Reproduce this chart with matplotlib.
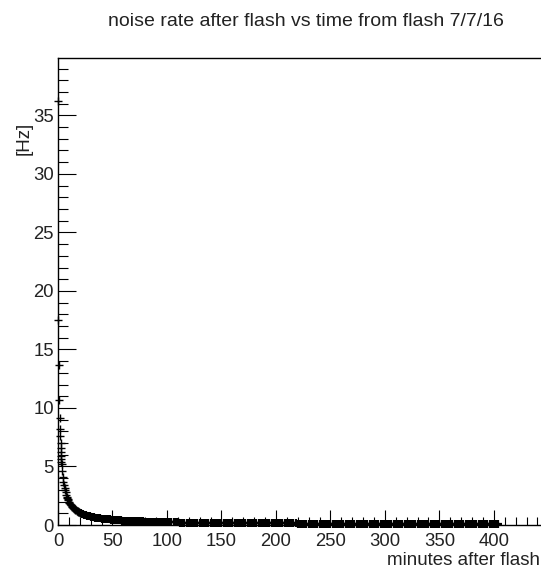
import numpy as np
import matplotlib
matplotlib.use("Agg")
import matplotlib.pyplot as plt
from matplotlib.ticker import MultipleLocator

plt.rcParams['font.family'] = ['Liberation Sans', 'DejaVu Sans']

# ---- data ----
tA = [0.2, 0.3, 0.6, 1.2, 1.6, 1.9, 2.1, 2.3, 2.5, 2.7, 2.9, 3.0, 3.2]
rA = [17.5, 36.2, 13.7, 10.7, 9.1, 8.2, 7.6, 7.0, 6.6, 6.2, 5.9, 5.6, 5.4]

tB = np.arange(3.5, 20.01, 0.5)
rB = [5.2, 4.6, 4.1, 3.7, 3.4, 3.2, 3.0, 2.8, 2.6, 2.4, 2.3, 2.2, 2.1, 2.0,
      1.9, 1.8, 1.75, 1.7, 1.62, 1.56, 1.5, 1.46, 1.41, 1.37, 1.33, 1.29,
      1.25, 1.22, 1.19, 1.16, 1.13, 1.1, 1.08, 1.05]

tC = np.arange(21, 101, 1)
rC = [1.0, 0.96, 0.92, 0.89, 0.86, 0.83, 0.80, 0.77, 0.75, 0.72,
      0.70, 0.68, 0.66, 0.64, 0.63, 0.61, 0.60, 0.58, 0.57, 0.55,
      0.54, 0.53, 0.52, 0.51, 0.50, 0.49, 0.48, 0.47, 0.46, 0.45,
      0.44, 0.43, 0.43, 0.42, 0.41, 0.40, 0.40, 0.39, 0.38, 0.38,
      0.37, 0.37, 0.36, 0.36, 0.35, 0.35, 0.34, 0.34, 0.33, 0.33,
      0.32, 0.32, 0.32, 0.31, 0.31, 0.30, 0.30, 0.30, 0.29, 0.29,
      0.29, 0.28, 0.28, 0.28, 0.27, 0.27, 0.27, 0.26, 0.26, 0.26,
      0.26, 0.25, 0.25, 0.25, 0.25, 0.24, 0.24, 0.24, 0.24, 0.23]

tD = np.arange(102, 219, 2)
rD = [0.23, 0.23, 0.22, 0.22, 0.22, 0.21, 0.21, 0.21, 0.21, 0.20,
      0.20, 0.20, 0.20, 0.19, 0.19, 0.19, 0.19, 0.19, 0.18, 0.18,
      0.18, 0.18, 0.18, 0.18, 0.17, 0.17, 0.17, 0.17, 0.17, 0.17,
      0.16, 0.16, 0.16, 0.16, 0.16, 0.16, 0.16, 0.15, 0.15, 0.15,
      0.15, 0.15, 0.15, 0.15, 0.15, 0.14, 0.14, 0.14, 0.14, 0.14,
      0.14, 0.14, 0.14, 0.14, 0.13, 0.13, 0.13, 0.13, 0.13]

tE = np.arange(220, 405, 2)
rE = [0.11, 0.11, 0.11, 0.11, 0.11, 0.11, 0.11, 0.11, 0.11, 0.11,
      0.11, 0.11, 0.11, 0.10, 0.10, 0.10, 0.10, 0.10, 0.10, 0.10,
      0.10, 0.10, 0.10, 0.10, 0.10, 0.10, 0.10, 0.10, 0.10, 0.10,
      0.10, 0.10, 0.10, 0.09, 0.09, 0.09, 0.09, 0.09, 0.09, 0.09,
      0.09, 0.09, 0.09, 0.09, 0.09, 0.09, 0.09, 0.09, 0.09, 0.09,
      0.09, 0.09, 0.09, 0.09, 0.09, 0.09, 0.08, 0.08, 0.08, 0.08,
      0.08, 0.08, 0.08, 0.08, 0.08, 0.08, 0.08, 0.08, 0.08, 0.08,
      0.08, 0.08, 0.08, 0.08, 0.08, 0.08, 0.08, 0.08, 0.08, 0.08,
      0.08, 0.08, 0.08, 0.08, 0.08, 0.07, 0.07, 0.07, 0.07, 0.07,
      0.07, 0.07, 0.07]

t_early = np.concatenate([tA, tB])
r_early = np.concatenate([rA, rB])
t_late = np.concatenate([tC, tD, tE])
r_late = np.concatenate([rC, rD, rE])

title = "noise rate after flash vs time from flash 7/7/16"
xlabel = "minutes after flash"
ylabel = "[Hz]"

# ---- figure ----
W, H = 541, 569
fig = plt.figure(figsize=(W / 100, H / 100), dpi=100)
ax = fig.add_axes([58 / W, 44 / H, (W - 58) / W - 0.0005, (525 - 58) / H])

ax.plot(t_early, r_early, linestyle='none', marker='+', color='black',
        markersize=5.5, markeredgewidth=1.0, clip_on=False)
ax.plot(t_late, r_late, linestyle='none', marker='+', color='black',
        markersize=6, markeredgewidth=1.6, clip_on=False)

ax.set_xlim(0, 443)
ax.set_ylim(0, 39.9)

ax.xaxis.set_major_locator(MultipleLocator(50))
ax.xaxis.set_minor_locator(MultipleLocator(10))
ax.yaxis.set_major_locator(MultipleLocator(5))
ax.yaxis.set_minor_locator(MultipleLocator(1))

ax.tick_params(axis='both', which='both', direction='in', top=False,
               right=False, labelsize=13.3, colors='black', width=0.8)
ax.tick_params(axis='y', which='major', length=13, pad=3)
ax.tick_params(axis='y', which='minor', length=7)
ax.tick_params(axis='x', which='major', length=11, pad=6)
ax.tick_params(axis='x', which='minor', length=6)
for lab in ax.get_xticklabels() + ax.get_yticklabels():
    lab.set_color('#222222')

ax.spines['right'].set_visible(False)
for s in ['left', 'bottom', 'top']:
    ax.spines[s].set_linewidth(1.0)
    ax.spines[s].set_color('black')

fig.text(306 / W, 1 - 26 / H, title, ha='center', va='baseline',
         fontsize=14, color='#222222')
fig.text(1 - 1 / W, 1 - 565 / H, xlabel, ha='right', va='baseline',
         fontsize=13.5, color='#222222')
fig.text(24 / W, 1 - 138 / H, ylabel, ha='center', va='center',
         rotation=90, fontsize=13.5, color='#222222')

fig.savefig("out.png", dpi=100)
